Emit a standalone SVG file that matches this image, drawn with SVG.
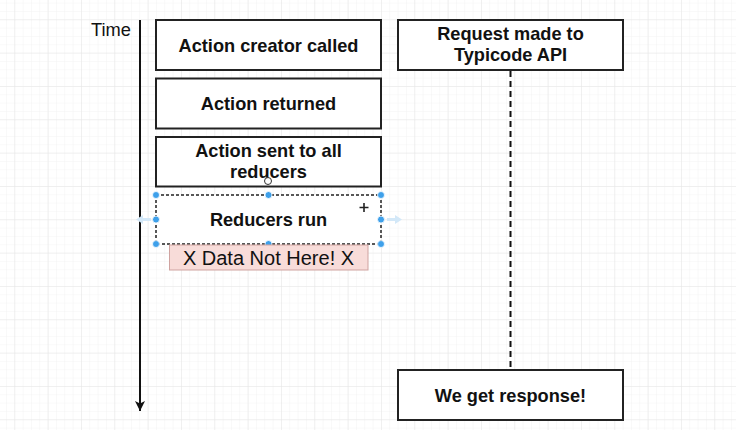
<svg xmlns="http://www.w3.org/2000/svg" width="736" height="430" viewBox="0 0 736 430">
  <defs>
    <pattern id="minor" x="14.3" y="19.3" width="8.333" height="8.333" patternUnits="userSpaceOnUse">
      <path d="M0 0H8.333M0 0V8.333" fill="none" stroke="#f3f3f3" stroke-width="1"/>
    </pattern>
    <pattern id="major" x="14.3" y="19.3" width="33.333" height="33.333" patternUnits="userSpaceOnUse">
      <path d="M0 0H33.333M0 0V33.333" fill="none" stroke="#e6e6e6" stroke-width="1"/>
    </pattern>
    <marker id="arrow" viewBox="0 0 10 10" refX="10" refY="5" markerWidth="5" markerHeight="5" orient="auto" markerUnits="strokeWidth">
      <path d="M0 0L10 5L0 10L2.5 5Z" fill="#111"/>
    </marker>
  </defs>
  <style>
    .box { fill: #fff; stroke: #222; stroke-width: 2; }
    .lbl { font-family: "Liberation Sans", Arial, Helvetica, sans-serif; font-size: 18.2px; font-weight: bold; fill: #111; text-anchor: middle; }
    .reg { font-family: "Liberation Sans", Arial, Helvetica, sans-serif; font-size: 18.3px; fill: #111; }
    .handle { fill: #3ea0ea; stroke: #fff; stroke-width: 0.8; }
    .ghost { fill: #d3e8f8; }
  </style>

  <rect width="736" height="430" fill="#fff"/>
  <rect width="736" height="430" fill="url(#minor)"/>
  <rect width="736" height="430" fill="url(#major)"/>

  <g id="time-label">
    <text class="reg" x="91" y="36">Time</text>
  </g>

  <g id="connectors">
    <line x1="140" y1="20" x2="140" y2="411" stroke="#111" stroke-width="2" marker-end="url(#arrow)"/>
    <line x1="510.5" y1="71" x2="510.5" y2="370" stroke="#111" stroke-width="2" stroke-dasharray="6 4"/>
  </g>

  <g id="action-creator-called">
    <rect class="box" x="156" y="20" width="225" height="50"/>
    <text class="lbl" x="268.5" y="52">Action creator called</text>
  </g>

  <g id="action-returned">
    <rect class="box" x="156" y="78.5" width="225" height="50"/>
    <text class="lbl" x="268.5" y="109.5">Action returned</text>
  </g>

  <g id="action-sent">
    <rect class="box" x="156" y="137" width="225" height="49.5"/>
    <text class="lbl" x="268.5" y="157">Action sent to all</text>
    <text class="lbl" x="268.5" y="178">reducers</text>
  </g>

  <g id="reducers-run">
    <rect x="156" y="195" width="225" height="49" fill="#fff" stroke="#222" stroke-width="1.5" stroke-dasharray="3 2"/>
    <text class="lbl" x="268.5" y="226">Reducers run</text>
    <path class="ghost" d="M136 219.5L143 215V218H151V221H143V224Z"/>
    <path class="ghost" d="M402 219.5L395 215V218H387V221H395V224Z"/>
    <circle class="handle" cx="156" cy="195" r="3.5"/>
    <circle class="handle" cx="268.5" cy="195" r="3.5"/>
    <circle class="handle" cx="381" cy="195" r="3.5"/>
    <circle class="handle" cx="156" cy="219.5" r="3.5"/>
    <circle class="handle" cx="381" cy="219.5" r="3.5"/>
    <circle class="handle" cx="156" cy="244" r="3.5"/>
    <circle class="handle" cx="268.5" cy="244" r="3.5"/>
    <circle class="handle" cx="381" cy="244" r="3.5"/>
    <path d="M364 203V212M359.5 207.5H368.5" stroke="#222" stroke-width="1.6"/>
    <circle cx="268" cy="181" r="3.5" fill="#fff" stroke="#333" stroke-width="1"/>
  </g>

  <g id="data-not-here">
    <rect x="169.5" y="245" width="198.5" height="25" fill="#f8dcd9" stroke="#cfa3a0" stroke-width="1"/>
    <text class="reg" x="268.5" y="265" text-anchor="middle" style="font-size:20px">X Data Not Here! X</text>
  </g>

  <g id="request-made">
    <rect class="box" x="398" y="20" width="225" height="50"/>
    <text class="lbl" x="510.5" y="40">Request made to</text>
    <text class="lbl" x="510.5" y="61">Typicode API</text>
  </g>

  <g id="we-get-response">
    <rect class="box" x="398" y="370" width="225" height="50"/>
    <text class="lbl" x="510.5" y="401.5">We get response!</text>
  </g>
</svg>
